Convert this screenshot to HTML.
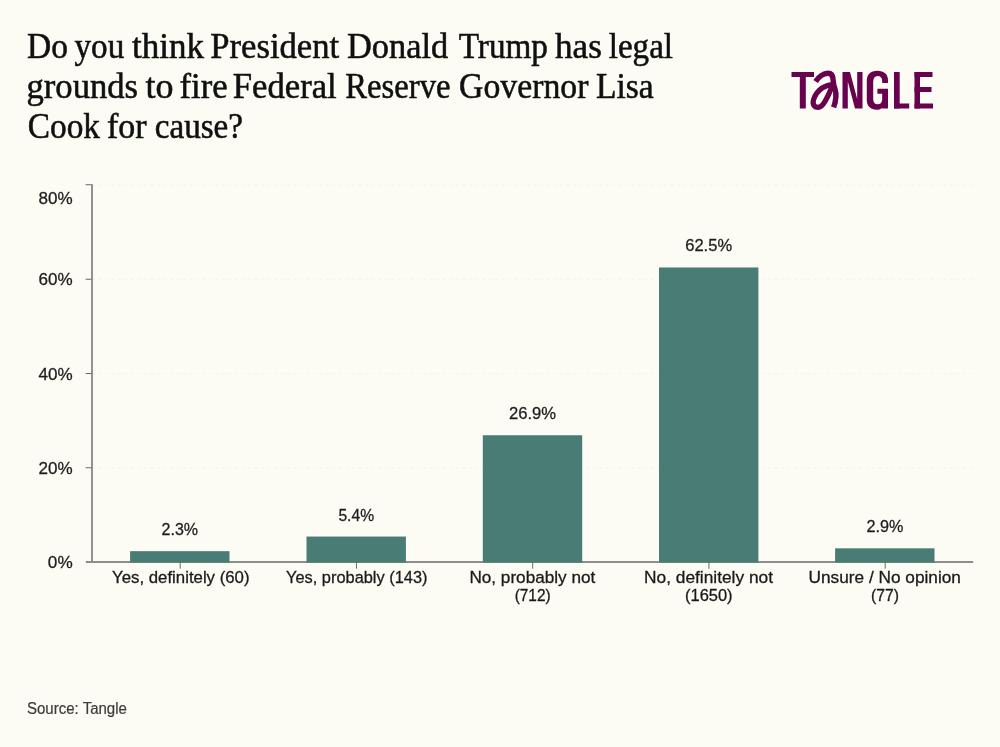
<!DOCTYPE html>
<html>
<head>
<meta charset="utf-8">
<title>Tangle poll</title>
<style>
html,body{margin:0;padding:0;}
body{width:1000px;height:747px;background:#fcfcf4;overflow:hidden;font-family:"Liberation Sans",sans-serif;}
svg{position:absolute;left:0;top:0;display:block;will-change:transform;opacity:0.9999;}
.title{font-family:"Liberation Serif",serif;font-size:35px;fill:#101010;stroke:#101010;stroke-width:0.55px;}
.yl{font-family:"Liberation Sans",sans-serif;font-size:17.4px;fill:#1e1e1e;stroke:#1e1e1e;stroke-width:0.3px;}
.vl{font-family:"Liberation Sans",sans-serif;font-size:17px;fill:#1e1e1e;stroke:#1e1e1e;stroke-width:0.3px;}
.xl{font-family:"Liberation Sans",sans-serif;font-size:17px;fill:#1a1a1a;stroke:#1a1a1a;stroke-width:0.3px;}
.src{font-family:"Liberation Sans",sans-serif;font-size:15.6px;fill:#3c3c3c;stroke:#3c3c3c;stroke-width:0.2px;}
.grid{stroke:#f4f4ec;stroke-width:1;stroke-dasharray:3 3.5;}
.axis{stroke:#8d8d89;stroke-width:1.9;fill:none;}
.tick{stroke:#6a6a68;stroke-width:1;}
.bar{fill:#4a7c76;}
</style>
</head>
<body>
<svg width="1000" height="747" viewBox="0 0 1000 747">
  <!-- gridlines -->
  <line class="grid" x1="92" x2="973" y1="185" y2="185"/>
  <line class="grid" x1="92" x2="973" y1="279.25" y2="279.25"/>
  <line class="grid" x1="92" x2="973" y1="373.5" y2="373.5"/>
  <line class="grid" x1="92" x2="973" y1="467.75" y2="467.75"/>

  <!-- axes -->
  <line class="axis" x1="92" x2="92" y1="184.2" y2="563"/>
  <line class="axis" x1="85.8" x2="973.2" y1="562" y2="562"/>
  <!-- y ticks -->
  <line class="tick" x1="85.6" x2="91.5" y1="184.7" y2="184.7"/>
  <line class="tick" x1="85.6" x2="91.5" y1="279.25" y2="279.25"/>
  <line class="tick" x1="85.6" x2="91.5" y1="373.5" y2="373.5"/>
  <line class="tick" x1="85.6" x2="91.5" y1="467.75" y2="467.75"/>
  <!-- x ticks -->
  <line class="tick" x1="180.2" x2="180.2" y1="562" y2="568.7"/>
  <line class="tick" x1="356.45" x2="356.45" y1="562" y2="568.7"/>
  <line class="tick" x1="532.7" x2="532.7" y1="562" y2="568.7"/>
  <line class="tick" x1="708.95" x2="708.95" y1="562" y2="568.7"/>
  <line class="tick" x1="885.2" x2="885.2" y1="562" y2="568.7"/>

  <!-- bars -->
  <rect class="bar" x="130.10" y="551.16" width="99.4" height="11.44"/>
  <rect class="bar" x="306.50" y="536.55" width="99.4" height="26.05"/>
  <rect class="bar" x="482.80" y="435.23" width="99.4" height="127.37"/>
  <rect class="bar" x="659.00" y="267.47" width="99.4" height="295.13"/>
  <rect class="bar" x="835.10" y="548.33" width="99.4" height="14.27"/>

  <!-- text -->
  <text class="title" transform="translate(27.04,57.5) scale(0.9570,1)">Do</text>
  <text class="title" transform="translate(74.50,57.5) scale(0.9471,1)">you</text>
  <text class="title" transform="translate(132.00,57.5) scale(1.0007,1)">think</text>
  <text class="title" transform="translate(210.26,57.5) scale(0.9901,1)">President</text>
  <text class="title" transform="translate(347.02,57.5) scale(0.9826,1)">Donald</text>
  <text class="title" transform="translate(458.75,57.5) scale(0.9489,1)">Trump</text>
  <text class="title" transform="translate(555.00,57.5) scale(1.0047,1)">has</text>
  <text class="title" transform="translate(608.75,57.5) scale(0.9452,1)">legal</text>
  <text class="title" transform="translate(26.51,97.5) scale(0.9896,1)">grounds</text>
  <text class="title" transform="translate(145.50,97.5) scale(1.0290,1)">to</text>
  <text class="title" transform="translate(179.51,97.5) scale(0.9886,1)">fire</text>
  <text class="title" transform="translate(232.76,97.5) scale(0.9906,1)">Federal</text>
  <text class="title" transform="translate(345.32,97.5) scale(0.9331,1)">Reserve</text>
  <text class="title" transform="translate(459.04,97.5) scale(0.9647,1)">Governor</text>
  <text class="title" transform="translate(596.04,97.5) scale(0.9577,1)">Lisa</text>
  <text class="title" transform="translate(27.80,137.5) scale(0.9523,1)">Cook</text>
  <text class="title" transform="translate(107.03,137.5) scale(0.9712,1)">for</text>
  <text class="title" transform="translate(154.80,137.5) scale(0.9458,1)">cause?</text>
  <text class="yl" transform="translate(38.50,204.1) scale(0.9813,1)">80%</text>
  <text class="yl" transform="translate(38.50,285.3) scale(0.9813,1)">60%</text>
  <text class="yl" transform="translate(38.50,379.6) scale(0.9813,1)">40%</text>
  <text class="yl" transform="translate(38.50,473.8) scale(0.9813,1)">20%</text>
  <text class="yl" transform="translate(47.86,568.1) scale(0.9864,1)">0%</text>
  <text class="vl" transform="translate(161.60,535.16) scale(0.9422,1)">2.3%</text>
  <text class="vl" transform="translate(338.40,520.55) scale(0.9215,1)">5.4%</text>
  <text class="vl" transform="translate(509.00,419.23) scale(0.9774,1)">26.9%</text>
  <text class="vl" transform="translate(685.20,251.47) scale(0.9732,1)">62.5%</text>
  <text class="vl" transform="translate(866.60,532.33) scale(0.9526,1)">2.9%</text>
  <text class="xl" transform="translate(112.00,582.8) scale(0.9887,1)">Yes, definitely (60)</text>
  <text class="xl" transform="translate(286.00,582.8) scale(0.9648,1)">Yes, probably (143)</text>
  <text class="xl" transform="translate(469.39,582.8) scale(1.0095,1)">No, probably not</text>
  <text class="xl" transform="translate(514.70,600.8) scale(0.9047,1)">(712)</text>
  <text class="xl" transform="translate(643.98,582.8) scale(1.0198,1)">No, definitely not</text>
  <text class="xl" transform="translate(685.03,600.8) scale(0.9688,1)">(1650)</text>
  <text class="xl" transform="translate(808.59,582.8) scale(1.0148,1)">Unsure / No opinion</text>
  <text class="xl" transform="translate(871.08,600.8) scale(0.9240,1)">(77)</text>
  <text class="src" transform="translate(27.00,713.6) scale(0.9637,1)">Source: Tangle</text>

  <!-- logo -->
  <g id="logo" fill="#68024e">
    <rect x="791.5" y="72" width="22.5" height="5"/>
    <rect x="799.8" y="72" width="6" height="36.5"/>
    <path d="M815.6,81.4 C818.5,77 823.5,73.2 827.9,73.2 C831.8,73.2 833,76.5 833.1,80 C833.2,83 834,86 835,89 C836.5,93.5 836.6,99 833.6,107.3" fill="none" stroke="#68024e" stroke-width="5.4"/>
    <path d="M833.3,84.6 C830,84.6 826,85.5 822.1,88 C818.5,90.5 815,95 813.6,99.5 C812.2,104 814,107.3 818.2,107.3 C821,107.3 823.5,104 825,101.4 C827,98 828.5,95 829.8,91.7 C831,88.5 832.3,86 833.3,84.6 Z" fill="none" stroke="#68024e" stroke-width="5.2" stroke-linejoin="round"/>
    <path d="M842.5,108.5 V72 H850 L857.2,99 V72 H862.5 V108.5 H855 L847.8,81.5 V108.5 Z"/>
    <path d="M888,83 V80 C888,74.5 884,70.8 877.3,70.8 C870.5,70.8 866.8,74.5 866.8,81 V100 C866.8,106 870.5,109.7 876.8,109.7 C879.3,109.7 881,109 881.9,107.9 L882.2,108.4 H888 V88.8 H877.4 V93.65 H882.2 V99 C882.2,102.5 880.6,104.3 877.7,104.3 C874.8,104.3 873.2,102.5 873.2,99 V82 C873.2,78 874.8,76 877.7,76 C880.6,76 882.2,78 882.2,81 V83 Z"/>
    <rect x="894" y="72" width="5.7" height="36.5"/>
    <rect x="894" y="103.5" width="15.2" height="5"/>
    <rect x="914.5" y="72" width="5.5" height="36.5"/>
    <rect x="914.5" y="72" width="18" height="5"/>
    <rect x="914.5" y="87" width="17" height="5"/>
    <rect x="914.5" y="103.5" width="18.5" height="5"/>
  </g>
</svg>
</body>
</html>
